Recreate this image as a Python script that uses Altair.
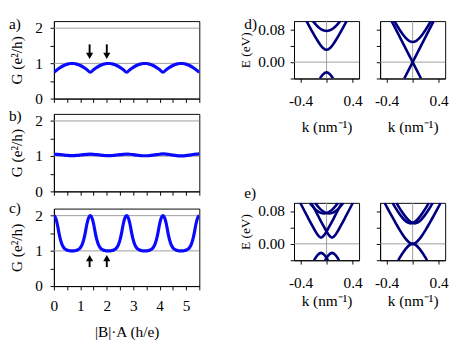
import altair as alt
import pandas as pd

FONT = "Liberation Serif"
BLUE = "#0a0aff"
NAVY = "#00007f"
GRID = "#9a9a9a"
FS = 16

# ---------------- left panels: conductance vs flux ----------------
flux = [0, 0.125, 0.25, 0.375, 0.5, 0.625, 0.75, 0.875, 1.0, 1.125, 1.25,
        1.375, 1.5, 1.625, 1.75, 1.875, 2.0, 2.125, 2.25, 2.375, 2.5, 2.625,
        2.75, 2.875, 3.0, 3.125, 3.25, 3.375, 3.5, 3.625, 3.75, 3.875, 4.0,
        4.125, 4.25, 4.375, 4.5, 4.625, 4.75, 4.875, 5.0, 5.125, 5.25, 5.375,
        5.5]
G_a = [0.75, 0.82, 0.885, 0.939, 0.977, 0.997, 0.997, 0.977, 0.939, 0.885, 0.82,
       0.75, 0.82, 0.885, 0.939, 0.977, 0.997, 0.997, 0.977, 0.939, 0.885, 0.82,
       0.75, 0.82, 0.885, 0.939, 0.977, 0.997, 0.997, 0.977, 0.939, 0.885, 0.82,
       0.75, 0.82, 0.885, 0.939, 0.977, 0.997, 0.997, 0.977, 0.939, 0.885, 0.82,
       0.75]
G_b = [1.055, 1.052, 1.043, 1.032, 1.022, 1.016, 1.016, 1.022, 1.032, 1.043, 1.052,
       1.057, 1.053, 1.044, 1.032, 1.021, 1.014, 1.014, 1.021, 1.032, 1.044, 1.053,
       1.060, 1.056, 1.045, 1.031, 1.019, 1.011, 1.011, 1.019, 1.031, 1.045, 1.056,
       1.063, 1.059, 1.047, 1.031, 1.017, 1.008, 1.008, 1.017, 1.031, 1.047, 1.059,
       1.066]
flux_fine = [0, 0.0625, 0.125, 0.1875, 0.25, 0.3125, 0.375, 0.4375, 0.5, 0.5625, 0.625, 0.6875,
             0.75, 0.8125, 0.875, 0.9375, 1.0, 1.0625, 1.125, 1.1875, 1.25, 1.3125, 1.375, 1.4375,
             1.5, 1.5625, 1.625, 1.6875, 1.75, 1.8125, 1.875, 1.9375, 2.0, 2.0625, 2.125, 2.1875,
             2.25, 2.3125, 2.375, 2.4375, 2.5, 2.5625, 2.625, 2.6875, 2.75, 2.8125, 2.875, 2.9375,
             3.0, 3.0625, 3.125, 3.1875, 3.25, 3.3125, 3.375, 3.4375, 3.5, 3.5625, 3.625, 3.6875,
             3.75, 3.8125, 3.875, 3.9375, 4.0, 4.0625, 4.125, 4.1875, 4.25, 4.3125, 4.375, 4.4375,
             4.5, 4.5625, 4.625, 4.6875, 4.75, 4.8125, 4.875, 4.9375, 5.0, 5.0625, 5.125, 5.1875,
             5.25, 5.3125, 5.375, 5.4375, 5.5]
G_c = [2.0, 1.94, 1.77, 1.52, 1.31, 1.17, 1.09, 1.045, 1.02, 1.01, 1.0, 1.0,
       1.0, 1.01, 1.02, 1.045, 1.09, 1.17, 1.31, 1.52, 1.77, 1.94,
       2.0, 1.94, 1.77, 1.52, 1.31, 1.17, 1.09, 1.045, 1.02, 1.01, 1.0, 1.0,
       1.0, 1.01, 1.02, 1.045, 1.09, 1.17, 1.31, 1.52, 1.77, 1.94,
       2.0, 1.94, 1.77, 1.52, 1.31, 1.17, 1.09, 1.045, 1.02, 1.01, 1.0, 1.0,
       1.0, 1.01, 1.02, 1.045, 1.09, 1.17, 1.31, 1.52, 1.77, 1.94,
       2.0, 1.94, 1.77, 1.52, 1.31, 1.17, 1.09, 1.045, 1.02, 1.01, 1.0, 1.0,
       1.0, 1.01, 1.02, 1.045, 1.09, 1.17, 1.31, 1.52, 1.77, 1.94,
       2.0]
G_gridlines = [1, 2]
flux_ticks = [0, 0.5, 1, 1.5, 2, 2.5, 3, 3.5, 4, 4.5, 5, 5.5]
G_ticks = [0, 0.5, 1, 1.5, 2]

arrow_x = [1.35, 2.0]
arrow_a_tail = [1.54, 1.54]
arrow_a_head = [1.215, 1.215]
arrow_c_tail = [0.54, 0.54]
arrow_c_head = [0.795, 0.795]

# ---------------- right panels: band structures (each band ends where it leaves the frame) ----------------
# d) left
d1_k_cb1 = [-0.3077, -0.25, -0.2, -0.15, -0.1, -0.05, 0, 0.05, 0.1, 0.15, 0.2, 0.25, 0.3077]
d1_cb1 = [0.1, 0.0831, 0.0689, 0.0553, 0.0431, 0.0338, 0.030, 0.0338, 0.0431, 0.0553, 0.0689, 0.0831, 0.1]
d1_k_cb2 = [-0.2097, -0.2, -0.15, -0.1, -0.05, 0, 0.05, 0.1, 0.15, 0.2, 0.2097]
d1_cb2 = [0.1, 0.0981, 0.0891, 0.0821, 0.0776, 0.076, 0.0776, 0.0821, 0.0891, 0.0981, 0.1]
d1_k_vb = [-0.1007, -0.075, -0.05, 0, 0.05, 0.075, 0.1007]
d1_vb = [-0.04, -0.0341, -0.0294, -0.025, -0.0294, -0.0341, -0.04]
# d) right
d2_k_up = [-0.129, 0, 0.3226]
d2_up = [-0.04, 0, 0.1]
d2_k_down = [-0.3226, 0, 0.129]
d2_down = [0.1, 0, -0.04]
d2_k_cb = [-0.2812, -0.25, -0.2, -0.15, -0.1, -0.05, 0, 0.05, 0.1, 0.15, 0.2, 0.25, 0.2812]
d2_cb = [0.1, 0.0917, 0.0790, 0.0675, 0.0580, 0.0514, 0.049, 0.0514, 0.0580, 0.0675, 0.0790, 0.0917, 0.1]
# e) left
e1_k_low_m = [-0.4039, -0.335, -0.285, -0.235, -0.185, -0.135, -0.085, -0.035, 0.015, 0.065, 0.115, 0.165, 0.2339]
e1_k_low_p = [-0.2339, -0.165, -0.115, -0.065, -0.015, 0.035, 0.085, 0.135, 0.185, 0.235, 0.285, 0.335, 0.4039]
e1_low = [0.1, 0.0789, 0.0638, 0.0489, 0.0344, 0.0216, 0.015, 0.0216, 0.0344, 0.0489, 0.0638, 0.0789, 0.1]
e1_k_up_m = [-0.257, -0.19, -0.14, -0.09, -0.04, 0.01, 0.06, 0.11, 0.177]
e1_k_up_p = [-0.177, -0.11, -0.06, -0.01, 0.04, 0.09, 0.14, 0.19, 0.257]
e1_up = [0.1, 0.0874, 0.0802, 0.0756, 0.074, 0.0756, 0.0802, 0.0874, 0.1]
e1_k_v_m = [-0.1928, -0.165, -0.135, -0.085, -0.035, -0.005, 0.0228]
e1_k_v_p = [-0.0228, 0.005, 0.035, 0.085, 0.135, 0.165, 0.1928]
e1_v = [-0.04, -0.0332, -0.0269, -0.022, -0.0269, -0.0332, -0.04]
# e) right
e2_k_outer_up = [-0.4304, -0.4, -0.3, -0.25, -0.2, -0.15, -0.1, -0.05, 0,
                 0.05, 0.1, 0.15, 0.2, 0.25, 0.3, 0.4, 0.4304]
e2_outer_up = [0.1, 0.0910, 0.0619, 0.0478, 0.0342, 0.0217, 0.0108, 0.0030, 0,
               0.0030, 0.0108, 0.0217, 0.0342, 0.0478, 0.0619, 0.0910, 0.1]
e2_k_outer_down = [-0.2216, -0.2, -0.15, -0.1, -0.05, 0, 0.05, 0.1, 0.15, 0.2, 0.2216]
e2_outer_down = [-0.04, -0.0342, -0.0217, -0.0108, -0.0030, 0, -0.0030, -0.0108, -0.0217, -0.0342, -0.04]
e2_k_in_m = [-0.3094, -0.28, -0.23, -0.18, -0.13, -0.08, -0.03, 0.02, 0.07, 0.12, 0.17, 0.22, 0.2494]
e2_k_in_p = [-0.2494, -0.22, -0.17, -0.12, -0.07, -0.02, 0.03, 0.08, 0.13, 0.18, 0.23, 0.28, 0.3094]
e2_in = [0.1, 0.0922, 0.0797, 0.0683, 0.0588, 0.0523, 0.05, 0.0523, 0.0588, 0.0683, 0.0797, 0.0922, 0.1]

k_ticks = [-0.4, 0, 0.4]
E_ticks = [-0.04, 0, 0.04, 0.08]
zero_lines = [0]

# ---------------- builders ----------------
XS_L = alt.Scale(domain=[0, 5.5], nice=False, zero=False)
YS_L = alt.Scale(domain=[0, 2.2], nice=False)


def left_panel(xv, gv, label, label_y, bottom, arrows=None):
    x_axis = alt.Axis(values=flux_ticks, labels=bottom, tickSize=4,
                      labelExpr="datum.value % 1 == 0 ? format(datum.value, 'd') : ''",
                      labelFlush=False, labelPadding=9, titlePadding=11,
                      title="|B|·A (h/e)" if bottom else None)
    y_axis = alt.Axis(values=G_ticks, tickSize=4, labelPadding=8, titlePadding=11,
                      labelExpr="datum.value % 1 == 0 ? format(datum.value, 'd') : ''",
                      title="G (e²/h)")

    def X(f):
        return alt.X(f, type="quantitative", scale=XS_L, axis=x_axis)

    def Y(f):
        return alt.Y(f, type="quantitative", scale=YS_L, axis=y_axis)

    grid = alt.Chart(pd.DataFrame({"g": G_gridlines})).mark_rule(
        color=GRID, strokeWidth=1).encode(y=Y("g"))
    curve = alt.Chart(pd.DataFrame({"x": xv, "G": gv})).mark_line(
        color=BLUE, strokeWidth=3.3, interpolate="monotone", clip=True).encode(
        x=X("x"), y=Y("G"))
    lab = alt.Chart(pd.DataFrame({"t": [label]})).mark_text(
        align="left", baseline="top", font=FONT, fontSize=FS).encode(
        x=alt.value(-47), y=alt.value(label_y), text="t:N")
    layers = [grid, curve]
    if arrows is not None:
        tail, head, shape = arrows
        adf = pd.DataFrame({"x": arrow_x, "tail": tail, "head": head})
        shaft = alt.Chart(adf).mark_rule(color="black", strokeWidth=2).encode(
            x=X("x"), y=Y("tail"), y2=alt.Y2("head"))
        tip = alt.Chart(adf).mark_point(shape=shape, filled=True, color="black",
                                        size=55, opacity=1).encode(x=X("x"), y=Y("head"))
        layers += [shaft, tip]
    layers.append(lab)
    return alt.layer(*layers).properties(width=152, height=81)


XS_R = alt.Scale(domain=[-0.5, 0.5], nice=False, zero=False)
YS_R = alt.Scale(domain=[-0.04, 0.1], nice=False, zero=False)


def right_panel(branches, first, label=None, label_y=0, label_pad=11, title_pad=10):
    x_axis = alt.Axis(values=k_ticks, tickSize=4, labelFlush=False, labelPadding=label_pad,
                      titlePadding=title_pad,
                      labelExpr="datum.value == 0 ? '' : (datum.value < 0 ? '-' : '') + format(abs(datum.value), '.1f')",
                      title="k (nm⁻¹)")
    if first:
        y_axis = alt.Axis(values=E_ticks, tickSize=4, labelPadding=6, titlePadding=6,
                          titleFontSize=14,
                          labelExpr="datum.value == 0.08 || datum.value == 0 ? format(datum.value, '.2f') : ''",
                          title="E (eV)")
    else:
        y_axis = alt.Axis(values=E_ticks, tickSize=4, labels=False, title=None)

    def X(f):
        return alt.X(f, type="quantitative", scale=XS_R, axis=x_axis)

    def Y(f):
        return alt.Y(f, type="quantitative", scale=YS_R, axis=y_axis)

    rows = []
    for i, (kk, ee) in enumerate(branches):
        for a, b in zip(kk, ee):
            rows.append({"k": a, "E": b, "branch": i})
    df = pd.DataFrame(rows)
    zl = pd.DataFrame({"z": zero_lines})
    hline = alt.Chart(zl).mark_rule(color=GRID, strokeWidth=1).encode(y=Y("z"))
    vline = alt.Chart(zl).mark_rule(color=GRID, strokeWidth=1).encode(x=X("z"))
    bands = alt.Chart(df).mark_line(color=NAVY, strokeWidth=2.7, interpolate="monotone",
                                    clip=True).encode(
        x=X("k"), y=Y("E"), detail="branch:N", order="k:Q")
    layers = [hline, vline, bands]
    if label:
        lab = alt.Chart(pd.DataFrame({"t": [label]})).mark_text(
            align="left", baseline="top", font=FONT, fontSize=FS).encode(
            x=alt.value(-52), y=alt.value(label_y), text="t:N")
        layers.append(lab)
    return alt.layer(*layers).properties(width=68, height=60)


pa = left_panel(flux, G_a, "a)", -5, False, (arrow_a_tail, arrow_a_head, "triangle-down"))
pb = left_panel(flux, G_b, "b)", -6, False)
pc = left_panel(flux_fine, G_c, "c)", -8, True, (arrow_c_tail, arrow_c_head, "triangle-up"))
left = alt.vconcat(pa, pb, pc, spacing=0)

d1 = right_panel([(d1_k_cb1, d1_cb1), (d1_k_cb2, d1_cb2), (d1_k_vb, d1_vb)], True, "d)", -5, 11, 11)
d2 = right_panel([(d2_k_up, d2_up), (d2_k_down, d2_down), (d2_k_cb, d2_cb)], False, None, -5, 11, 11)
e1 = right_panel([(e1_k_low_m, e1_low), (e1_k_low_p, e1_low), (e1_k_up_m, e1_up),
                  (e1_k_up_p, e1_up), (e1_k_v_m, e1_v), (e1_k_v_p, e1_v)], True, "e)", -18, 12, 2)
e2 = right_panel([(e2_k_outer_up, e2_outer_up), (e2_k_outer_down, e2_outer_down),
                  (e2_k_in_m, e2_in), (e2_k_in_p, e2_in)], False, None, -18, 12, 2)
right = alt.vconcat(alt.hconcat(d1, d2, spacing=11), alt.hconcat(e1, e2, spacing=11), spacing=52)

chart = alt.hconcat(left, right, spacing=39).properties(padding=0).configure_axis(
    labelFont=FONT, titleFont=FONT, labelFontSize=FS, titleFontSize=FS,
    titleFontWeight="normal", labelColor="black", titleColor="black",
    tickColor="black", domainColor="black", grid=False
).configure_view(stroke="black", strokeWidth=1)

chart.save("out.html", embed_options={"renderer": "svg", "actions": False})
